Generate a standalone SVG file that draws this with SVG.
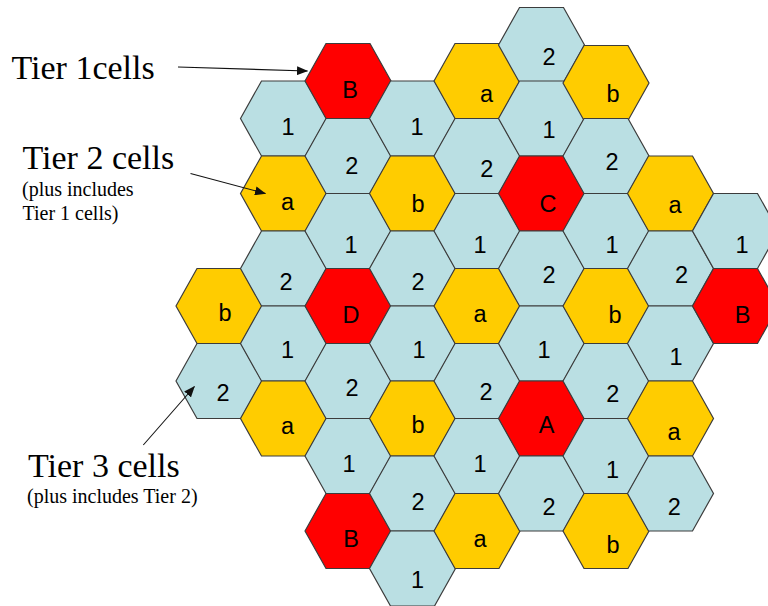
<svg xmlns="http://www.w3.org/2000/svg" xmlns:xlink="http://www.w3.org/1999/xlink" width="768" height="606" viewBox="0 0 768 606">
<defs>
<polygon id="hex" points="-43,0 -22,-37.5 22,-37.5 43,0 22,37.5 -22,37.5"/>
<marker id="ah" markerUnits="userSpaceOnUse" markerWidth="11" markerHeight="9" refX="10.5" refY="4.5" orient="auto">
<path d="M0,0 L11,4.5 L0,9 z" fill="#111"/>
</marker>
</defs>
<style>
.b{fill:#BADFE3;stroke:#3c3c3c;stroke-width:1.2}
.y{fill:#FFCC00;stroke:#3c3c3c;stroke-width:1.2}
.r{fill:#FF0000;stroke:#3c3c3c;stroke-width:1.2}
.l{font-family:"Liberation Sans",Arial,sans-serif;font-size:23.5px;fill:#000;text-anchor:middle}
.big{font-family:"Liberation Serif","Times New Roman",serif;font-size:34px;fill:#000}
.small{font-family:"Liberation Serif","Times New Roman",serif;font-size:20px;fill:#000}
.conn{stroke:#111;stroke-width:1.1;fill:none;marker-end:url(#ah)}
</style>
<rect width="768" height="606" fill="#fff"/>
<g id="cells">
<g id="c0r3"><use href="#hex" x="219" y="306" class="y"/><text class="l" x="225" y="321">b</text></g>
<g id="c0r4"><use href="#hex" x="219" y="381" class="b"/><text class="l" x="223" y="401">2</text></g>
<g id="c1r1"><use href="#hex" x="283.5" y="118.5" class="b"/><text class="l" x="288" y="135">1</text></g>
<g id="c1r2"><use href="#hex" x="283.5" y="193.5" class="y"/><text class="l" x="287.5" y="210">a</text></g>
<g id="c1r3"><use href="#hex" x="283.5" y="268.5" class="b"/><text class="l" x="286" y="290">2</text></g>
<g id="c1r4"><use href="#hex" x="283.5" y="343.5" class="b"/><text class="l" x="287.5" y="358">1</text></g>
<g id="c1r5"><use href="#hex" x="283.5" y="418.5" class="y"/><text class="l" x="287.5" y="434">a</text></g>
<g id="c2r0"><use href="#hex" x="348" y="81" class="r"/><text class="l" x="350" y="98">B</text></g>
<g id="c2r1"><use href="#hex" x="348" y="156" class="b"/><text class="l" x="351.7" y="174">2</text></g>
<g id="c2r2"><use href="#hex" x="348" y="231" class="b"/><text class="l" x="351" y="253">1</text></g>
<g id="c2r3"><use href="#hex" x="348" y="306" class="r"/><text class="l" x="351" y="323">D</text></g>
<g id="c2r4"><use href="#hex" x="348" y="381" class="b"/><text class="l" x="352" y="396">2</text></g>
<g id="c2r5"><use href="#hex" x="348" y="456" class="b"/><text class="l" x="349" y="472">1</text></g>
<g id="c2r6"><use href="#hex" x="348" y="531" class="r"/><text class="l" x="351" y="547">B</text></g>
<g id="c3r1"><use href="#hex" x="412.5" y="118.5" class="b"/><text class="l" x="417" y="135">1</text></g>
<g id="c3r2"><use href="#hex" x="412.5" y="193.5" class="y"/><text class="l" x="418" y="212">b</text></g>
<g id="c3r3"><use href="#hex" x="412.5" y="268.5" class="b"/><text class="l" x="418" y="290">2</text></g>
<g id="c3r4"><use href="#hex" x="412.5" y="343.5" class="b"/><text class="l" x="419" y="358">1</text></g>
<g id="c3r5"><use href="#hex" x="412.5" y="418.5" class="y"/><text class="l" x="418" y="433">b</text></g>
<g id="c3r6"><use href="#hex" x="412.5" y="493.5" class="b"/><text class="l" x="418" y="510">2</text></g>
<g id="c3r7"><use href="#hex" x="412.5" y="568.5" class="b"/><text class="l" x="417.5" y="588">1</text></g>
<g id="c4r0"><use href="#hex" x="477" y="81" class="y"/><text class="l" x="486.5" y="102">a</text></g>
<g id="c4r1"><use href="#hex" x="477" y="156" class="b"/><text class="l" x="486.7" y="177">2</text></g>
<g id="c4r2"><use href="#hex" x="477" y="231" class="b"/><text class="l" x="480" y="253">1</text></g>
<g id="c4r3"><use href="#hex" x="477" y="306" class="y"/><text class="l" x="480" y="322">a</text></g>
<g id="c4r4"><use href="#hex" x="477" y="381" class="b"/><text class="l" x="486" y="400">2</text></g>
<g id="c4r5"><use href="#hex" x="477" y="456" class="b"/><text class="l" x="480" y="472">1</text></g>
<g id="c4r6"><use href="#hex" x="477" y="531" class="y"/><text class="l" x="480" y="547">a</text></g>
<g id="c5r0"><use href="#hex" x="541.5" y="45" class="b"/><text class="l" x="549" y="65">2</text></g>
<g id="c5r1"><use href="#hex" x="541.5" y="118.5" class="b"/><text class="l" x="549" y="138">1</text></g>
<g id="c5r2"><use href="#hex" x="541.5" y="193.5" class="r"/><text class="l" x="548" y="212">C</text></g>
<g id="c5r3"><use href="#hex" x="541.5" y="268.5" class="b"/><text class="l" x="549" y="283">2</text></g>
<g id="c5r4"><use href="#hex" x="541.5" y="343.5" class="b"/><text class="l" x="544" y="358">1</text></g>
<g id="c5r5"><use href="#hex" x="541.5" y="418.5" class="r"/><text class="l" x="546.6" y="433">A</text></g>
<g id="c5r6"><use href="#hex" x="541.5" y="493.5" class="b"/><text class="l" x="549" y="515">2</text></g>
<g id="c6r0"><use href="#hex" x="606" y="83" class="y"/><text class="l" x="613" y="102">b</text></g>
<g id="c6r1"><use href="#hex" x="606" y="156" class="b"/><text class="l" x="612" y="170">2</text></g>
<g id="c6r2"><use href="#hex" x="606" y="231" class="b"/><text class="l" x="612" y="253">1</text></g>
<g id="c6r3"><use href="#hex" x="606" y="306" class="y"/><text class="l" x="615" y="323">b</text></g>
<g id="c6r4"><use href="#hex" x="606" y="381" class="b"/><text class="l" x="612.7" y="402">2</text></g>
<g id="c6r5"><use href="#hex" x="606" y="456" class="b"/><text class="l" x="612.5" y="478">1</text></g>
<g id="c6r6"><use href="#hex" x="606" y="531" class="y"/><text class="l" x="613" y="553">b</text></g>
<g id="c7r2"><use href="#hex" x="670.5" y="193.5" class="y"/><text class="l" x="675" y="213">a</text></g>
<g id="c7r3"><use href="#hex" x="670.5" y="268.5" class="b"/><text class="l" x="681.5" y="283">2</text></g>
<g id="c7r4"><use href="#hex" x="670.5" y="343.5" class="b"/><text class="l" x="676" y="365">1</text></g>
<g id="c7r5"><use href="#hex" x="670.5" y="418.5" class="y"/><text class="l" x="674" y="440">a</text></g>
<g id="c7r6"><use href="#hex" x="670.5" y="493.5" class="b"/><text class="l" x="674.3" y="515">2</text></g>
<g id="c8r2"><use href="#hex" x="735.5" y="231" class="b"/><text class="l" x="742" y="253">1</text></g>
<g id="c8r3"><use href="#hex" x="735.5" y="306" class="r"/><text class="l" x="742.5" y="323">B</text></g>
</g>
<g id="labels">
<text class="big" x="11.5" y="79.3">Tier 1cells</text>
<text class="big" x="22.5" y="169.3">Tier 2 cells</text>
<text class="small" x="22" y="196">(plus includes</text>
<text class="small" x="22.5" y="219.5">Tier 1 cells)</text>
<text class="big" x="28" y="477.3">Tier 3 cells</text>
<text class="small" x="27" y="503">(plus includes Tier 2)</text>
</g>
<g id="connectors">
<line class="conn" x1="178" y1="67" x2="307.5" y2="71"/>
<line class="conn" x1="190.5" y1="173.5" x2="265.5" y2="193.5"/>
<line class="conn" x1="143.3" y1="445" x2="194.5" y2="386.5"/>
</g>
</svg>
